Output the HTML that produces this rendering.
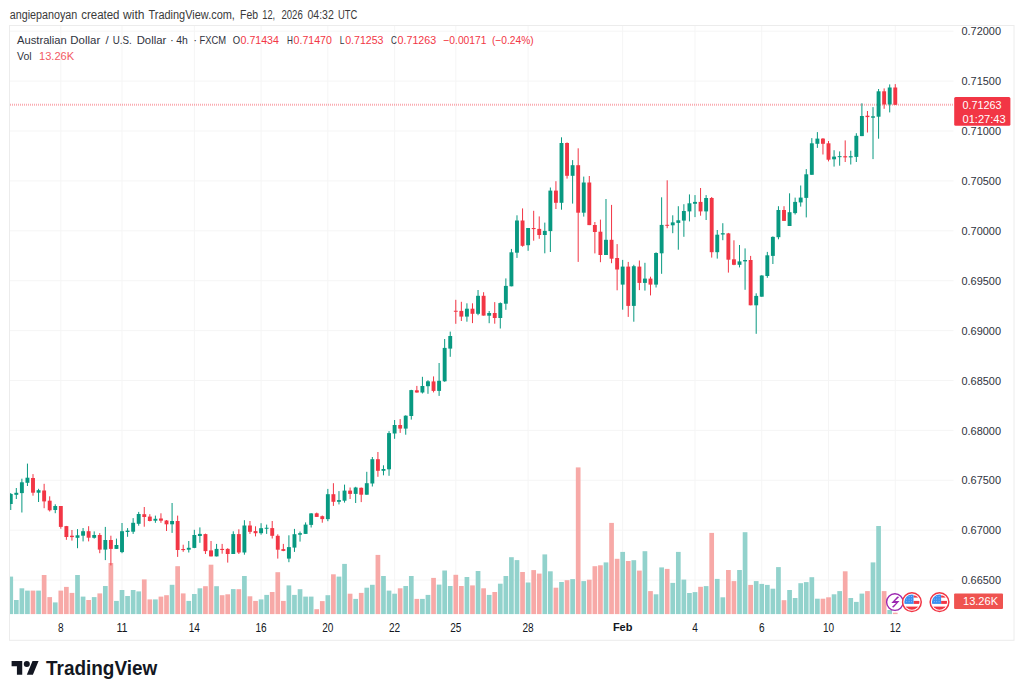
<!DOCTYPE html>
<html><head><meta charset="utf-8"><style>
html,body{margin:0;padding:0;background:#fff;width:1024px;height:696px;overflow:hidden}
svg{display:block;font-family:"Liberation Sans",sans-serif}
</style></head><body>
<svg width="1024" height="696" viewBox="0 0 1024 696">
<rect width="1024" height="696" fill="#ffffff"/>
<text x="9.7" y="18.8" font-size="12" fill="#3a3a3a" textLength="67.6" lengthAdjust="spacingAndGlyphs">angiepanoyan</text>
<text x="81.2" y="18.8" font-size="12" fill="#3a3a3a" textLength="38.3" lengthAdjust="spacingAndGlyphs">created</text>
<text x="123" y="18.8" font-size="12" fill="#3a3a3a" textLength="21.5" lengthAdjust="spacingAndGlyphs">with</text>
<text x="148.5" y="18.8" font-size="12" fill="#3a3a3a" textLength="86.4" lengthAdjust="spacingAndGlyphs">TradingView.com,</text>
<text x="240" y="18.8" font-size="12" fill="#3a3a3a" textLength="18.0" lengthAdjust="spacingAndGlyphs">Feb</text>
<text x="262.3" y="18.8" font-size="12" fill="#3a3a3a" textLength="12.9" lengthAdjust="spacingAndGlyphs">12,</text>
<text x="281.4" y="18.8" font-size="12" fill="#3a3a3a" textLength="21.4" lengthAdjust="spacingAndGlyphs">2026</text>
<text x="307.4" y="18.8" font-size="12" fill="#3a3a3a" textLength="26.4" lengthAdjust="spacingAndGlyphs">04:32</text>
<text x="337.9" y="18.8" font-size="12" fill="#3a3a3a" textLength="19.4" lengthAdjust="spacingAndGlyphs">UTC</text>
<rect x="9.5" y="25.5" width="1004.5" height="614.8" fill="none" stroke="#ececec" stroke-width="1"/>
<defs><clipPath id="cp"><rect x="10" y="26" width="943.5" height="613"/></clipPath></defs>
<line x1="10" x2="953.5" y1="31.20" y2="31.20" stroke="#f5f5f5" stroke-width="1"/>
<line x1="10" x2="953.5" y1="81.10" y2="81.10" stroke="#f5f5f5" stroke-width="1"/>
<line x1="10" x2="953.5" y1="131.00" y2="131.00" stroke="#f5f5f5" stroke-width="1"/>
<line x1="10" x2="953.5" y1="180.90" y2="180.90" stroke="#f5f5f5" stroke-width="1"/>
<line x1="10" x2="953.5" y1="230.80" y2="230.80" stroke="#f5f5f5" stroke-width="1"/>
<line x1="10" x2="953.5" y1="280.70" y2="280.70" stroke="#f5f5f5" stroke-width="1"/>
<line x1="10" x2="953.5" y1="330.60" y2="330.60" stroke="#f5f5f5" stroke-width="1"/>
<line x1="10" x2="953.5" y1="380.50" y2="380.50" stroke="#f5f5f5" stroke-width="1"/>
<line x1="10" x2="953.5" y1="430.40" y2="430.40" stroke="#f5f5f5" stroke-width="1"/>
<line x1="10" x2="953.5" y1="480.30" y2="480.30" stroke="#f5f5f5" stroke-width="1"/>
<line x1="10" x2="953.5" y1="530.20" y2="530.20" stroke="#f5f5f5" stroke-width="1"/>
<line x1="10" x2="953.5" y1="580.10" y2="580.10" stroke="#f5f5f5" stroke-width="1"/>
<line x1="60.82" x2="60.82" y1="26" y2="614" stroke="#f5f5f5" stroke-width="1"/>
<line x1="122.01" x2="122.01" y1="26" y2="614" stroke="#f5f5f5" stroke-width="1"/>
<line x1="194.33" x2="194.33" y1="26" y2="614" stroke="#f5f5f5" stroke-width="1"/>
<line x1="261.08" x2="261.08" y1="26" y2="614" stroke="#f5f5f5" stroke-width="1"/>
<line x1="327.84" x2="327.84" y1="26" y2="614" stroke="#f5f5f5" stroke-width="1"/>
<line x1="394.60" x2="394.60" y1="26" y2="614" stroke="#f5f5f5" stroke-width="1"/>
<line x1="455.79" x2="455.79" y1="26" y2="614" stroke="#f5f5f5" stroke-width="1"/>
<line x1="528.11" x2="528.11" y1="26" y2="614" stroke="#f5f5f5" stroke-width="1"/>
<line x1="622.68" x2="622.68" y1="26" y2="614" stroke="#f5f5f5" stroke-width="1"/>
<line x1="695.00" x2="695.00" y1="26" y2="614" stroke="#f5f5f5" stroke-width="1"/>
<line x1="761.75" x2="761.75" y1="26" y2="614" stroke="#f5f5f5" stroke-width="1"/>
<line x1="828.51" x2="828.51" y1="26" y2="614" stroke="#f5f5f5" stroke-width="1"/>
<line x1="895.27" x2="895.27" y1="26" y2="614" stroke="#f5f5f5" stroke-width="1"/>
<line x1="10" x2="954" y1="104.75" y2="104.75" stroke="#f23645" stroke-opacity="0.42" stroke-width="1.8" stroke-dasharray="1 1"/>
<g clip-path="url(#cp)">
<rect x="8.40" y="576.60" width="4.7" height="37.50" fill="#92d2cc"/>
<rect x="13.96" y="600.00" width="4.7" height="14.10" fill="#92d2cc"/>
<rect x="19.53" y="588.30" width="4.7" height="25.80" fill="#92d2cc"/>
<rect x="25.09" y="590.60" width="4.7" height="23.50" fill="#92d2cc"/>
<rect x="30.65" y="590.60" width="4.7" height="23.50" fill="#f7a9a7"/>
<rect x="36.21" y="590.60" width="4.7" height="23.50" fill="#92d2cc"/>
<rect x="41.78" y="575.00" width="4.7" height="39.10" fill="#f7a9a7"/>
<rect x="47.34" y="597.10" width="4.7" height="17.00" fill="#f7a9a7"/>
<rect x="52.90" y="602.40" width="4.7" height="11.70" fill="#92d2cc"/>
<rect x="58.47" y="590.60" width="4.7" height="23.50" fill="#f7a9a7"/>
<rect x="64.03" y="586.90" width="4.7" height="27.20" fill="#f7a9a7"/>
<rect x="69.59" y="592.90" width="4.7" height="21.20" fill="#f7a9a7"/>
<rect x="75.16" y="575.00" width="4.7" height="39.10" fill="#92d2cc"/>
<rect x="80.72" y="596.60" width="4.7" height="17.50" fill="#92d2cc"/>
<rect x="86.28" y="600.00" width="4.7" height="14.10" fill="#f7a9a7"/>
<rect x="91.84" y="597.10" width="4.7" height="17.00" fill="#92d2cc"/>
<rect x="97.41" y="593.40" width="4.7" height="20.70" fill="#f7a9a7"/>
<rect x="102.97" y="586.00" width="4.7" height="28.10" fill="#92d2cc"/>
<rect x="108.53" y="563.00" width="4.7" height="51.10" fill="#f7a9a7"/>
<rect x="114.10" y="600.90" width="4.7" height="13.20" fill="#92d2cc"/>
<rect x="119.66" y="590.00" width="4.7" height="24.10" fill="#92d2cc"/>
<rect x="125.22" y="596.00" width="4.7" height="18.10" fill="#92d2cc"/>
<rect x="130.79" y="590.00" width="4.7" height="24.10" fill="#92d2cc"/>
<rect x="136.35" y="591.40" width="4.7" height="22.70" fill="#92d2cc"/>
<rect x="141.91" y="579.40" width="4.7" height="34.70" fill="#f7a9a7"/>
<rect x="147.47" y="599.40" width="4.7" height="14.70" fill="#f7a9a7"/>
<rect x="153.04" y="599.40" width="4.7" height="14.70" fill="#92d2cc"/>
<rect x="158.60" y="596.60" width="4.7" height="17.50" fill="#f7a9a7"/>
<rect x="164.16" y="595.20" width="4.7" height="18.90" fill="#f7a9a7"/>
<rect x="169.73" y="584.80" width="4.7" height="29.30" fill="#92d2cc"/>
<rect x="175.29" y="566.20" width="4.7" height="47.90" fill="#f7a9a7"/>
<rect x="180.85" y="593.40" width="4.7" height="20.70" fill="#f7a9a7"/>
<rect x="186.42" y="600.90" width="4.7" height="13.20" fill="#92d2cc"/>
<rect x="191.98" y="594.00" width="4.7" height="20.10" fill="#92d2cc"/>
<rect x="197.54" y="588.30" width="4.7" height="25.80" fill="#92d2cc"/>
<rect x="203.10" y="586.20" width="4.7" height="27.90" fill="#f7a9a7"/>
<rect x="208.67" y="564.70" width="4.7" height="49.40" fill="#f7a9a7"/>
<rect x="214.23" y="586.20" width="4.7" height="27.90" fill="#92d2cc"/>
<rect x="219.79" y="595.20" width="4.7" height="18.90" fill="#f7a9a7"/>
<rect x="225.36" y="594.30" width="4.7" height="19.80" fill="#f7a9a7"/>
<rect x="230.92" y="589.10" width="4.7" height="25.00" fill="#92d2cc"/>
<rect x="236.48" y="589.20" width="4.7" height="24.90" fill="#f7a9a7"/>
<rect x="242.05" y="576.00" width="4.7" height="38.10" fill="#92d2cc"/>
<rect x="247.61" y="596.30" width="4.7" height="17.80" fill="#f7a9a7"/>
<rect x="253.17" y="600.90" width="4.7" height="13.20" fill="#f7a9a7"/>
<rect x="258.73" y="599.40" width="4.7" height="14.70" fill="#92d2cc"/>
<rect x="264.30" y="594.90" width="4.7" height="19.20" fill="#92d2cc"/>
<rect x="269.86" y="592.00" width="4.7" height="22.10" fill="#f7a9a7"/>
<rect x="275.42" y="572.20" width="4.7" height="41.90" fill="#f7a9a7"/>
<rect x="280.99" y="600.90" width="4.7" height="13.20" fill="#f7a9a7"/>
<rect x="286.55" y="585.40" width="4.7" height="28.70" fill="#92d2cc"/>
<rect x="292.11" y="594.90" width="4.7" height="19.20" fill="#92d2cc"/>
<rect x="297.68" y="589.20" width="4.7" height="24.90" fill="#92d2cc"/>
<rect x="303.24" y="596.60" width="4.7" height="17.50" fill="#92d2cc"/>
<rect x="308.80" y="596.60" width="4.7" height="17.50" fill="#92d2cc"/>
<rect x="314.36" y="609.20" width="4.7" height="4.90" fill="#f7a9a7"/>
<rect x="319.93" y="601.10" width="4.7" height="13.00" fill="#f7a9a7"/>
<rect x="325.49" y="595.20" width="4.7" height="18.90" fill="#92d2cc"/>
<rect x="331.05" y="574.30" width="4.7" height="39.80" fill="#f7a9a7"/>
<rect x="336.62" y="576.60" width="4.7" height="37.50" fill="#92d2cc"/>
<rect x="342.18" y="563.90" width="4.7" height="50.20" fill="#92d2cc"/>
<rect x="347.74" y="593.70" width="4.7" height="20.40" fill="#f7a9a7"/>
<rect x="353.31" y="598.90" width="4.7" height="15.20" fill="#92d2cc"/>
<rect x="358.87" y="592.90" width="4.7" height="21.20" fill="#f7a9a7"/>
<rect x="364.43" y="587.70" width="4.7" height="26.40" fill="#92d2cc"/>
<rect x="369.99" y="584.80" width="4.7" height="29.30" fill="#92d2cc"/>
<rect x="375.56" y="554.90" width="4.7" height="59.20" fill="#f7a9a7"/>
<rect x="381.12" y="576.00" width="4.7" height="38.10" fill="#92d2cc"/>
<rect x="386.68" y="590.60" width="4.7" height="23.50" fill="#92d2cc"/>
<rect x="392.25" y="593.70" width="4.7" height="20.40" fill="#92d2cc"/>
<rect x="397.81" y="588.30" width="4.7" height="25.80" fill="#f7a9a7"/>
<rect x="403.37" y="586.00" width="4.7" height="28.10" fill="#92d2cc"/>
<rect x="408.94" y="576.00" width="4.7" height="38.10" fill="#92d2cc"/>
<rect x="414.50" y="598.90" width="4.7" height="15.20" fill="#f7a9a7"/>
<rect x="420.06" y="598.90" width="4.7" height="15.20" fill="#92d2cc"/>
<rect x="425.62" y="594.90" width="4.7" height="19.20" fill="#92d2cc"/>
<rect x="431.19" y="577.90" width="4.7" height="36.20" fill="#f7a9a7"/>
<rect x="436.75" y="584.60" width="4.7" height="29.50" fill="#92d2cc"/>
<rect x="442.31" y="570.50" width="4.7" height="43.60" fill="#92d2cc"/>
<rect x="447.88" y="586.00" width="4.7" height="28.10" fill="#92d2cc"/>
<rect x="453.44" y="574.80" width="4.7" height="39.30" fill="#f7a9a7"/>
<rect x="459.00" y="586.00" width="4.7" height="28.10" fill="#f7a9a7"/>
<rect x="464.57" y="577.00" width="4.7" height="37.10" fill="#92d2cc"/>
<rect x="470.13" y="585.40" width="4.7" height="28.70" fill="#f7a9a7"/>
<rect x="475.69" y="571.00" width="4.7" height="43.10" fill="#92d2cc"/>
<rect x="481.25" y="588.30" width="4.7" height="25.80" fill="#f7a9a7"/>
<rect x="486.82" y="594.90" width="4.7" height="19.20" fill="#92d2cc"/>
<rect x="492.38" y="592.00" width="4.7" height="22.10" fill="#f7a9a7"/>
<rect x="497.94" y="583.70" width="4.7" height="30.40" fill="#92d2cc"/>
<rect x="503.51" y="576.00" width="4.7" height="38.10" fill="#92d2cc"/>
<rect x="509.07" y="557.20" width="4.7" height="56.90" fill="#92d2cc"/>
<rect x="514.63" y="560.10" width="4.7" height="54.00" fill="#92d2cc"/>
<rect x="520.20" y="572.00" width="4.7" height="42.10" fill="#f7a9a7"/>
<rect x="525.76" y="582.50" width="4.7" height="31.60" fill="#92d2cc"/>
<rect x="531.32" y="570.10" width="4.7" height="44.00" fill="#f7a9a7"/>
<rect x="536.88" y="573.60" width="4.7" height="40.50" fill="#f7a9a7"/>
<rect x="542.45" y="554.40" width="4.7" height="59.70" fill="#92d2cc"/>
<rect x="548.01" y="571.30" width="4.7" height="42.80" fill="#92d2cc"/>
<rect x="553.57" y="587.70" width="4.7" height="26.40" fill="#f7a9a7"/>
<rect x="559.14" y="582.00" width="4.7" height="32.10" fill="#92d2cc"/>
<rect x="564.70" y="580.20" width="4.7" height="33.90" fill="#f7a9a7"/>
<rect x="570.26" y="579.10" width="4.7" height="35.00" fill="#92d2cc"/>
<rect x="575.83" y="467.40" width="4.7" height="146.70" fill="#f7a9a7"/>
<rect x="581.39" y="581.10" width="4.7" height="33.00" fill="#92d2cc"/>
<rect x="586.95" y="579.70" width="4.7" height="34.40" fill="#f7a9a7"/>
<rect x="592.51" y="566.20" width="4.7" height="47.90" fill="#f7a9a7"/>
<rect x="598.08" y="565.30" width="4.7" height="48.80" fill="#f7a9a7"/>
<rect x="603.64" y="562.40" width="4.7" height="51.70" fill="#92d2cc"/>
<rect x="609.20" y="522.90" width="4.7" height="91.20" fill="#f7a9a7"/>
<rect x="614.77" y="558.80" width="4.7" height="55.30" fill="#f7a9a7"/>
<rect x="620.33" y="551.90" width="4.7" height="62.20" fill="#92d2cc"/>
<rect x="625.89" y="561.00" width="4.7" height="53.10" fill="#f7a9a7"/>
<rect x="631.46" y="560.20" width="4.7" height="53.90" fill="#92d2cc"/>
<rect x="637.02" y="570.60" width="4.7" height="43.50" fill="#f7a9a7"/>
<rect x="642.58" y="551.20" width="4.7" height="62.90" fill="#92d2cc"/>
<rect x="648.14" y="591.10" width="4.7" height="23.00" fill="#f7a9a7"/>
<rect x="653.71" y="594.30" width="4.7" height="19.80" fill="#92d2cc"/>
<rect x="659.27" y="567.40" width="4.7" height="46.70" fill="#92d2cc"/>
<rect x="664.83" y="568.90" width="4.7" height="45.20" fill="#f7a9a7"/>
<rect x="670.40" y="582.90" width="4.7" height="31.20" fill="#92d2cc"/>
<rect x="675.96" y="551.90" width="4.7" height="62.20" fill="#92d2cc"/>
<rect x="681.52" y="579.60" width="4.7" height="34.50" fill="#92d2cc"/>
<rect x="687.09" y="593.00" width="4.7" height="21.10" fill="#92d2cc"/>
<rect x="692.65" y="592.10" width="4.7" height="22.00" fill="#92d2cc"/>
<rect x="698.21" y="586.80" width="4.7" height="27.30" fill="#f7a9a7"/>
<rect x="703.77" y="586.10" width="4.7" height="28.00" fill="#92d2cc"/>
<rect x="709.34" y="532.90" width="4.7" height="81.20" fill="#f7a9a7"/>
<rect x="714.90" y="578.90" width="4.7" height="35.20" fill="#92d2cc"/>
<rect x="720.46" y="597.30" width="4.7" height="16.80" fill="#92d2cc"/>
<rect x="726.03" y="570.00" width="4.7" height="44.10" fill="#f7a9a7"/>
<rect x="731.59" y="581.10" width="4.7" height="33.00" fill="#f7a9a7"/>
<rect x="737.15" y="570.00" width="4.7" height="44.10" fill="#92d2cc"/>
<rect x="742.72" y="532.20" width="4.7" height="81.90" fill="#92d2cc"/>
<rect x="748.28" y="584.90" width="4.7" height="29.20" fill="#f7a9a7"/>
<rect x="753.84" y="581.10" width="4.7" height="33.00" fill="#92d2cc"/>
<rect x="759.40" y="583.90" width="4.7" height="30.20" fill="#92d2cc"/>
<rect x="764.97" y="584.90" width="4.7" height="29.20" fill="#92d2cc"/>
<rect x="770.53" y="588.70" width="4.7" height="25.40" fill="#92d2cc"/>
<rect x="776.09" y="567.10" width="4.7" height="47.00" fill="#92d2cc"/>
<rect x="781.66" y="600.20" width="4.7" height="13.90" fill="#f7a9a7"/>
<rect x="787.22" y="590.00" width="4.7" height="24.10" fill="#92d2cc"/>
<rect x="792.78" y="598.00" width="4.7" height="16.10" fill="#92d2cc"/>
<rect x="798.35" y="583.20" width="4.7" height="30.90" fill="#92d2cc"/>
<rect x="803.91" y="582.10" width="4.7" height="32.00" fill="#92d2cc"/>
<rect x="809.47" y="577.20" width="4.7" height="36.90" fill="#92d2cc"/>
<rect x="815.03" y="598.70" width="4.7" height="15.40" fill="#92d2cc"/>
<rect x="820.60" y="598.70" width="4.7" height="15.40" fill="#f7a9a7"/>
<rect x="826.16" y="597.30" width="4.7" height="16.80" fill="#f7a9a7"/>
<rect x="831.72" y="594.30" width="4.7" height="19.80" fill="#92d2cc"/>
<rect x="837.29" y="591.10" width="4.7" height="23.00" fill="#92d2cc"/>
<rect x="842.85" y="571.30" width="4.7" height="42.80" fill="#f7a9a7"/>
<rect x="848.41" y="598.00" width="4.7" height="16.10" fill="#92d2cc"/>
<rect x="853.98" y="601.90" width="4.7" height="12.20" fill="#92d2cc"/>
<rect x="859.54" y="593.60" width="4.7" height="20.50" fill="#92d2cc"/>
<rect x="865.10" y="591.10" width="4.7" height="23.00" fill="#f7a9a7"/>
<rect x="870.66" y="562.40" width="4.7" height="51.70" fill="#92d2cc"/>
<rect x="876.23" y="526.00" width="4.7" height="88.10" fill="#92d2cc"/>
<rect x="881.79" y="591.10" width="4.7" height="23.00" fill="#f7a9a7"/>
<rect x="887.35" y="610.00" width="4.7" height="4.10" fill="#92d2cc"/>
<rect x="892.92" y="612.70" width="4.7" height="1.40" fill="#f7a9a7"/>
<rect x="10.25" y="493.00" width="1" height="17.00" fill="#089981"/>
<rect x="8.80" y="494.00" width="3.9" height="10.00" fill="#089981"/>
<rect x="15.81" y="488.00" width="1" height="11.00" fill="#089981"/>
<rect x="14.36" y="492.80" width="3.9" height="2.00" fill="#089981"/>
<rect x="21.38" y="478.70" width="1" height="33.80" fill="#089981"/>
<rect x="19.93" y="482.30" width="3.9" height="10.80" fill="#089981"/>
<rect x="26.94" y="463.60" width="1" height="22.40" fill="#089981"/>
<rect x="25.49" y="477.70" width="3.9" height="5.10" fill="#089981"/>
<rect x="32.50" y="474.10" width="1" height="21.60" fill="#f23645"/>
<rect x="31.05" y="478.00" width="3.9" height="14.70" fill="#f23645"/>
<rect x="38.06" y="488.80" width="1" height="13.20" fill="#089981"/>
<rect x="36.61" y="490.20" width="3.9" height="2.50" fill="#089981"/>
<rect x="43.63" y="483.80" width="1" height="24.40" fill="#f23645"/>
<rect x="42.18" y="490.50" width="3.9" height="10.90" fill="#f23645"/>
<rect x="49.19" y="496.30" width="1" height="15.20" fill="#f23645"/>
<rect x="47.74" y="500.70" width="3.9" height="9.60" fill="#f23645"/>
<rect x="54.75" y="504.30" width="1" height="8.90" fill="#089981"/>
<rect x="53.30" y="506.00" width="3.9" height="4.00" fill="#089981"/>
<rect x="60.32" y="506.00" width="1" height="22.70" fill="#f23645"/>
<rect x="58.87" y="506.00" width="3.9" height="20.90" fill="#f23645"/>
<rect x="65.88" y="525.90" width="1" height="13.90" fill="#f23645"/>
<rect x="64.43" y="526.10" width="3.9" height="10.90" fill="#f23645"/>
<rect x="71.44" y="530.00" width="1" height="10.60" fill="#f23645"/>
<rect x="69.99" y="535.70" width="3.9" height="1.40" fill="#f23645"/>
<rect x="77.01" y="529.10" width="1" height="19.10" fill="#089981"/>
<rect x="75.56" y="535.30" width="3.9" height="2.50" fill="#089981"/>
<rect x="82.57" y="528.00" width="1" height="13.40" fill="#089981"/>
<rect x="81.12" y="531.20" width="3.9" height="4.50" fill="#089981"/>
<rect x="88.13" y="526.20" width="1" height="15.20" fill="#f23645"/>
<rect x="86.68" y="531.20" width="3.9" height="6.50" fill="#f23645"/>
<rect x="93.69" y="531.40" width="1" height="7.20" fill="#089981"/>
<rect x="92.24" y="535.00" width="3.9" height="2.80" fill="#089981"/>
<rect x="99.26" y="533.10" width="1" height="20.10" fill="#f23645"/>
<rect x="97.81" y="535.00" width="3.9" height="14.60" fill="#f23645"/>
<rect x="104.82" y="526.90" width="1" height="33.20" fill="#089981"/>
<rect x="103.37" y="540.00" width="3.9" height="9.60" fill="#089981"/>
<rect x="110.38" y="535.70" width="1" height="29.70" fill="#f23645"/>
<rect x="108.93" y="540.00" width="3.9" height="8.90" fill="#f23645"/>
<rect x="115.95" y="538.60" width="1" height="10.30" fill="#089981"/>
<rect x="114.50" y="545.00" width="3.9" height="3.90" fill="#089981"/>
<rect x="121.51" y="523.00" width="1" height="30.20" fill="#089981"/>
<rect x="120.06" y="531.20" width="3.9" height="20.90" fill="#089981"/>
<rect x="127.07" y="528.10" width="1" height="8.70" fill="#089981"/>
<rect x="125.62" y="530.60" width="3.9" height="1.40" fill="#089981"/>
<rect x="132.64" y="518.10" width="1" height="15.80" fill="#089981"/>
<rect x="131.19" y="522.80" width="3.9" height="8.90" fill="#089981"/>
<rect x="138.20" y="511.90" width="1" height="13.80" fill="#089981"/>
<rect x="136.75" y="514.00" width="3.9" height="9.80" fill="#089981"/>
<rect x="143.76" y="507.00" width="1" height="19.70" fill="#f23645"/>
<rect x="142.31" y="514.20" width="3.9" height="2.80" fill="#f23645"/>
<rect x="149.32" y="514.20" width="1" height="7.20" fill="#f23645"/>
<rect x="147.88" y="516.60" width="3.9" height="4.40" fill="#f23645"/>
<rect x="154.89" y="515.60" width="1" height="7.20" fill="#089981"/>
<rect x="153.44" y="518.80" width="3.9" height="1.90" fill="#089981"/>
<rect x="160.45" y="513.30" width="1" height="9.50" fill="#f23645"/>
<rect x="159.00" y="518.50" width="3.9" height="2.20" fill="#f23645"/>
<rect x="166.01" y="520.00" width="1" height="11.00" fill="#f23645"/>
<rect x="164.56" y="520.50" width="3.9" height="3.80" fill="#f23645"/>
<rect x="171.58" y="503.00" width="1" height="29.90" fill="#089981"/>
<rect x="170.13" y="521.00" width="3.9" height="3.30" fill="#089981"/>
<rect x="177.14" y="515.60" width="1" height="41.30" fill="#f23645"/>
<rect x="175.69" y="521.00" width="3.9" height="29.00" fill="#f23645"/>
<rect x="182.70" y="544.70" width="1" height="7.10" fill="#f23645"/>
<rect x="181.25" y="549.00" width="3.9" height="1.10" fill="#f23645"/>
<rect x="188.27" y="541.00" width="1" height="11.50" fill="#089981"/>
<rect x="186.82" y="547.80" width="3.9" height="1.90" fill="#089981"/>
<rect x="193.83" y="529.80" width="1" height="18.40" fill="#089981"/>
<rect x="192.38" y="535.00" width="3.9" height="12.90" fill="#089981"/>
<rect x="199.39" y="527.40" width="1" height="15.40" fill="#089981"/>
<rect x="197.94" y="533.90" width="3.9" height="2.10" fill="#089981"/>
<rect x="204.95" y="533.60" width="1" height="20.40" fill="#f23645"/>
<rect x="203.50" y="534.10" width="3.9" height="17.00" fill="#f23645"/>
<rect x="210.52" y="541.00" width="1" height="15.40" fill="#f23645"/>
<rect x="209.07" y="550.40" width="3.9" height="6.00" fill="#f23645"/>
<rect x="216.08" y="543.90" width="1" height="12.50" fill="#089981"/>
<rect x="214.63" y="548.90" width="3.9" height="7.50" fill="#089981"/>
<rect x="221.64" y="543.90" width="1" height="9.80" fill="#f23645"/>
<rect x="220.19" y="548.90" width="3.9" height="1.10" fill="#f23645"/>
<rect x="227.21" y="548.20" width="1" height="14.40" fill="#f23645"/>
<rect x="225.76" y="548.90" width="3.9" height="5.10" fill="#f23645"/>
<rect x="232.77" y="531.30" width="1" height="22.70" fill="#089981"/>
<rect x="231.32" y="534.10" width="3.9" height="19.90" fill="#089981"/>
<rect x="238.33" y="529.30" width="1" height="24.70" fill="#f23645"/>
<rect x="236.88" y="534.10" width="3.9" height="18.40" fill="#f23645"/>
<rect x="243.90" y="520.20" width="1" height="34.50" fill="#089981"/>
<rect x="242.45" y="525.50" width="3.9" height="27.00" fill="#089981"/>
<rect x="249.46" y="521.00" width="1" height="12.90" fill="#f23645"/>
<rect x="248.01" y="525.50" width="3.9" height="6.30" fill="#f23645"/>
<rect x="255.02" y="526.30" width="1" height="10.10" fill="#f23645"/>
<rect x="253.57" y="531.10" width="3.9" height="2.10" fill="#f23645"/>
<rect x="260.58" y="523.20" width="1" height="11.50" fill="#089981"/>
<rect x="259.13" y="528.20" width="3.9" height="5.00" fill="#089981"/>
<rect x="266.15" y="524.60" width="1" height="9.30" fill="#089981"/>
<rect x="264.70" y="527.75" width="3.9" height="1.00" fill="#089981"/>
<rect x="271.71" y="521.00" width="1" height="17.50" fill="#f23645"/>
<rect x="270.26" y="528.10" width="3.9" height="7.70" fill="#f23645"/>
<rect x="277.27" y="534.30" width="1" height="24.30" fill="#f23645"/>
<rect x="275.82" y="535.80" width="3.9" height="13.90" fill="#f23645"/>
<rect x="282.84" y="543.90" width="1" height="7.30" fill="#f23645"/>
<rect x="281.39" y="549.10" width="3.9" height="1.80" fill="#f23645"/>
<rect x="288.40" y="535.30" width="1" height="26.90" fill="#089981"/>
<rect x="286.95" y="547.10" width="3.9" height="11.50" fill="#089981"/>
<rect x="293.96" y="528.90" width="1" height="23.00" fill="#089981"/>
<rect x="292.51" y="534.20" width="3.9" height="13.40" fill="#089981"/>
<rect x="299.53" y="531.50" width="1" height="10.10" fill="#089981"/>
<rect x="298.08" y="533.20" width="3.9" height="1.50" fill="#089981"/>
<rect x="305.09" y="522.40" width="1" height="11.50" fill="#089981"/>
<rect x="303.64" y="524.60" width="3.9" height="9.30" fill="#089981"/>
<rect x="310.65" y="513.10" width="1" height="14.40" fill="#089981"/>
<rect x="309.20" y="513.40" width="3.9" height="11.50" fill="#089981"/>
<rect x="316.21" y="512.60" width="1" height="4.30" fill="#f23645"/>
<rect x="314.76" y="513.30" width="3.9" height="3.60" fill="#f23645"/>
<rect x="321.78" y="515.50" width="1" height="7.20" fill="#f23645"/>
<rect x="320.33" y="516.20" width="3.9" height="2.90" fill="#f23645"/>
<rect x="327.34" y="488.90" width="1" height="32.30" fill="#089981"/>
<rect x="325.89" y="494.20" width="3.9" height="24.90" fill="#089981"/>
<rect x="332.90" y="483.20" width="1" height="22.70" fill="#f23645"/>
<rect x="331.45" y="494.20" width="3.9" height="7.60" fill="#f23645"/>
<rect x="338.47" y="491.10" width="1" height="13.30" fill="#089981"/>
<rect x="337.02" y="500.10" width="3.9" height="1.70" fill="#089981"/>
<rect x="344.03" y="484.60" width="1" height="18.00" fill="#089981"/>
<rect x="342.58" y="490.60" width="3.9" height="10.10" fill="#089981"/>
<rect x="349.59" y="487.50" width="1" height="11.50" fill="#f23645"/>
<rect x="348.14" y="490.60" width="3.9" height="3.30" fill="#f23645"/>
<rect x="355.16" y="486.80" width="1" height="16.20" fill="#089981"/>
<rect x="353.71" y="487.50" width="3.9" height="6.40" fill="#089981"/>
<rect x="360.72" y="487.50" width="1" height="14.60" fill="#f23645"/>
<rect x="359.27" y="487.80" width="3.9" height="6.90" fill="#f23645"/>
<rect x="366.28" y="471.80" width="1" height="22.90" fill="#089981"/>
<rect x="364.83" y="483.20" width="3.9" height="11.50" fill="#089981"/>
<rect x="371.84" y="457.00" width="1" height="29.50" fill="#089981"/>
<rect x="370.39" y="459.20" width="3.9" height="24.30" fill="#089981"/>
<rect x="377.41" y="452.00" width="1" height="24.80" fill="#f23645"/>
<rect x="375.96" y="459.20" width="3.9" height="11.60" fill="#f23645"/>
<rect x="382.97" y="465.30" width="1" height="10.00" fill="#089981"/>
<rect x="381.52" y="469.00" width="3.9" height="1.80" fill="#089981"/>
<rect x="388.53" y="431.10" width="1" height="44.70" fill="#089981"/>
<rect x="387.08" y="433.10" width="3.9" height="36.20" fill="#089981"/>
<rect x="394.10" y="420.00" width="1" height="18.80" fill="#089981"/>
<rect x="392.65" y="425.00" width="3.9" height="8.50" fill="#089981"/>
<rect x="399.66" y="419.10" width="1" height="13.80" fill="#f23645"/>
<rect x="398.21" y="425.00" width="3.9" height="3.60" fill="#f23645"/>
<rect x="405.22" y="415.30" width="1" height="19.40" fill="#089981"/>
<rect x="403.77" y="415.70" width="3.9" height="12.90" fill="#089981"/>
<rect x="410.79" y="389.80" width="1" height="29.80" fill="#089981"/>
<rect x="409.34" y="390.10" width="3.9" height="25.90" fill="#089981"/>
<rect x="416.35" y="385.90" width="1" height="6.80" fill="#f23645"/>
<rect x="414.90" y="390.30" width="3.9" height="2.20" fill="#f23645"/>
<rect x="421.91" y="376.80" width="1" height="16.70" fill="#089981"/>
<rect x="420.46" y="386.00" width="3.9" height="6.50" fill="#089981"/>
<rect x="427.47" y="380.20" width="1" height="13.60" fill="#089981"/>
<rect x="426.02" y="381.30" width="3.9" height="4.90" fill="#089981"/>
<rect x="433.04" y="376.40" width="1" height="16.00" fill="#f23645"/>
<rect x="431.59" y="381.40" width="3.9" height="9.50" fill="#f23645"/>
<rect x="438.60" y="363.00" width="1" height="32.90" fill="#089981"/>
<rect x="437.15" y="380.80" width="3.9" height="10.10" fill="#089981"/>
<rect x="444.16" y="339.00" width="1" height="42.80" fill="#089981"/>
<rect x="442.71" y="347.90" width="3.9" height="33.40" fill="#089981"/>
<rect x="449.73" y="331.60" width="1" height="25.20" fill="#089981"/>
<rect x="448.28" y="336.00" width="3.9" height="12.60" fill="#089981"/>
<rect x="455.29" y="299.80" width="1" height="24.00" fill="#f23645"/>
<rect x="453.84" y="310.75" width="3.9" height="1.00" fill="#f23645"/>
<rect x="460.85" y="301.80" width="1" height="19.20" fill="#f23645"/>
<rect x="459.40" y="310.90" width="3.9" height="5.70" fill="#f23645"/>
<rect x="466.42" y="303.30" width="1" height="18.40" fill="#089981"/>
<rect x="464.97" y="308.70" width="3.9" height="7.90" fill="#089981"/>
<rect x="471.98" y="303.30" width="1" height="19.80" fill="#f23645"/>
<rect x="470.53" y="308.70" width="3.9" height="5.10" fill="#f23645"/>
<rect x="477.54" y="290.00" width="1" height="25.20" fill="#089981"/>
<rect x="476.09" y="295.80" width="3.9" height="18.00" fill="#089981"/>
<rect x="483.10" y="292.20" width="1" height="23.40" fill="#f23645"/>
<rect x="481.65" y="295.80" width="3.9" height="19.80" fill="#f23645"/>
<rect x="488.67" y="311.00" width="1" height="12.20" fill="#089981"/>
<rect x="487.22" y="313.00" width="3.9" height="2.70" fill="#089981"/>
<rect x="494.23" y="302.10" width="1" height="21.60" fill="#f23645"/>
<rect x="492.78" y="313.00" width="3.9" height="5.00" fill="#f23645"/>
<rect x="499.79" y="302.40" width="1" height="26.10" fill="#089981"/>
<rect x="498.34" y="303.10" width="3.9" height="14.90" fill="#089981"/>
<rect x="505.36" y="278.40" width="1" height="31.40" fill="#089981"/>
<rect x="503.91" y="285.90" width="3.9" height="17.80" fill="#089981"/>
<rect x="510.92" y="248.90" width="1" height="37.40" fill="#089981"/>
<rect x="509.47" y="252.30" width="3.9" height="34.00" fill="#089981"/>
<rect x="516.48" y="215.30" width="1" height="42.60" fill="#089981"/>
<rect x="515.03" y="220.50" width="3.9" height="32.20" fill="#089981"/>
<rect x="522.05" y="208.40" width="1" height="38.30" fill="#f23645"/>
<rect x="520.60" y="220.50" width="3.9" height="25.30" fill="#f23645"/>
<rect x="527.61" y="228.00" width="1" height="22.80" fill="#089981"/>
<rect x="526.16" y="228.00" width="3.9" height="17.20" fill="#089981"/>
<rect x="533.17" y="210.80" width="1" height="29.90" fill="#f23645"/>
<rect x="531.72" y="228.00" width="3.9" height="1.10" fill="#f23645"/>
<rect x="538.74" y="216.40" width="1" height="22.40" fill="#f23645"/>
<rect x="537.28" y="228.90" width="3.9" height="6.10" fill="#f23645"/>
<rect x="544.30" y="222.60" width="1" height="30.70" fill="#089981"/>
<rect x="542.85" y="230.90" width="3.9" height="4.10" fill="#089981"/>
<rect x="549.86" y="187.50" width="1" height="64.50" fill="#089981"/>
<rect x="548.41" y="190.60" width="3.9" height="40.50" fill="#089981"/>
<rect x="555.42" y="181.20" width="1" height="27.80" fill="#f23645"/>
<rect x="553.97" y="190.60" width="3.9" height="12.20" fill="#f23645"/>
<rect x="560.99" y="137.30" width="1" height="72.40" fill="#089981"/>
<rect x="559.54" y="143.00" width="3.9" height="59.80" fill="#089981"/>
<rect x="566.55" y="142.40" width="1" height="36.20" fill="#f23645"/>
<rect x="565.10" y="143.00" width="3.9" height="32.80" fill="#f23645"/>
<rect x="572.11" y="160.10" width="1" height="43.50" fill="#089981"/>
<rect x="570.66" y="165.20" width="3.9" height="10.60" fill="#089981"/>
<rect x="577.68" y="148.30" width="1" height="113.60" fill="#f23645"/>
<rect x="576.23" y="165.20" width="3.9" height="47.50" fill="#f23645"/>
<rect x="583.24" y="176.60" width="1" height="40.00" fill="#089981"/>
<rect x="581.79" y="182.50" width="3.9" height="30.20" fill="#089981"/>
<rect x="588.80" y="176.00" width="1" height="49.10" fill="#f23645"/>
<rect x="587.35" y="182.50" width="3.9" height="42.60" fill="#f23645"/>
<rect x="594.37" y="222.00" width="1" height="31.40" fill="#f23645"/>
<rect x="592.91" y="225.00" width="3.9" height="7.00" fill="#f23645"/>
<rect x="599.93" y="219.60" width="1" height="42.60" fill="#f23645"/>
<rect x="598.48" y="231.70" width="3.9" height="23.30" fill="#f23645"/>
<rect x="605.49" y="199.00" width="1" height="56.00" fill="#089981"/>
<rect x="604.04" y="239.80" width="3.9" height="15.20" fill="#089981"/>
<rect x="611.05" y="204.90" width="1" height="58.30" fill="#f23645"/>
<rect x="609.60" y="239.80" width="3.9" height="18.90" fill="#f23645"/>
<rect x="616.62" y="244.10" width="1" height="46.20" fill="#f23645"/>
<rect x="615.17" y="258.00" width="3.9" height="11.50" fill="#f23645"/>
<rect x="622.18" y="259.90" width="1" height="49.80" fill="#089981"/>
<rect x="620.73" y="266.60" width="3.9" height="18.00" fill="#089981"/>
<rect x="627.74" y="261.90" width="1" height="55.00" fill="#f23645"/>
<rect x="626.29" y="266.60" width="3.9" height="39.30" fill="#f23645"/>
<rect x="633.31" y="264.80" width="1" height="56.90" fill="#089981"/>
<rect x="631.86" y="266.20" width="3.9" height="39.70" fill="#089981"/>
<rect x="638.87" y="260.50" width="1" height="29.60" fill="#f23645"/>
<rect x="637.42" y="266.60" width="3.9" height="16.30" fill="#f23645"/>
<rect x="644.43" y="262.80" width="1" height="27.80" fill="#089981"/>
<rect x="642.98" y="278.60" width="3.9" height="4.30" fill="#089981"/>
<rect x="650.00" y="276.70" width="1" height="18.70" fill="#f23645"/>
<rect x="648.54" y="278.60" width="3.9" height="6.00" fill="#f23645"/>
<rect x="655.56" y="252.30" width="1" height="35.20" fill="#089981"/>
<rect x="654.11" y="253.00" width="3.9" height="31.60" fill="#089981"/>
<rect x="661.12" y="197.30" width="1" height="76.50" fill="#089981"/>
<rect x="659.67" y="224.90" width="3.9" height="28.40" fill="#089981"/>
<rect x="666.68" y="180.30" width="1" height="47.90" fill="#f23645"/>
<rect x="665.23" y="224.80" width="3.9" height="1.00" fill="#f23645"/>
<rect x="672.25" y="215.30" width="1" height="17.90" fill="#089981"/>
<rect x="670.80" y="222.40" width="3.9" height="2.90" fill="#089981"/>
<rect x="677.81" y="206.20" width="1" height="43.50" fill="#089981"/>
<rect x="676.36" y="220.30" width="3.9" height="2.60" fill="#089981"/>
<rect x="683.37" y="204.20" width="1" height="32.60" fill="#089981"/>
<rect x="681.92" y="211.00" width="3.9" height="9.60" fill="#089981"/>
<rect x="688.94" y="194.40" width="1" height="27.00" fill="#089981"/>
<rect x="687.49" y="203.30" width="3.9" height="8.10" fill="#089981"/>
<rect x="694.50" y="195.10" width="1" height="22.00" fill="#089981"/>
<rect x="693.05" y="201.90" width="3.9" height="1.90" fill="#089981"/>
<rect x="700.06" y="188.00" width="1" height="27.70" fill="#f23645"/>
<rect x="698.61" y="201.90" width="3.9" height="9.50" fill="#f23645"/>
<rect x="705.62" y="195.10" width="1" height="24.90" fill="#089981"/>
<rect x="704.17" y="198.00" width="3.9" height="13.40" fill="#089981"/>
<rect x="711.19" y="197.00" width="1" height="60.60" fill="#f23645"/>
<rect x="709.74" y="198.00" width="3.9" height="54.20" fill="#f23645"/>
<rect x="716.75" y="230.00" width="1" height="28.60" fill="#089981"/>
<rect x="715.30" y="234.70" width="3.9" height="17.50" fill="#089981"/>
<rect x="722.31" y="223.20" width="1" height="17.00" fill="#089981"/>
<rect x="720.86" y="233.20" width="3.9" height="1.30" fill="#089981"/>
<rect x="727.88" y="232.90" width="1" height="39.70" fill="#f23645"/>
<rect x="726.43" y="233.40" width="3.9" height="26.30" fill="#f23645"/>
<rect x="733.44" y="240.30" width="1" height="24.90" fill="#f23645"/>
<rect x="731.99" y="259.30" width="3.9" height="5.50" fill="#f23645"/>
<rect x="739.00" y="245.00" width="1" height="22.40" fill="#089981"/>
<rect x="737.55" y="261.40" width="3.9" height="3.40" fill="#089981"/>
<rect x="744.57" y="248.40" width="1" height="41.40" fill="#089981"/>
<rect x="743.12" y="260.00" width="3.9" height="1.40" fill="#089981"/>
<rect x="750.13" y="255.90" width="1" height="49.40" fill="#f23645"/>
<rect x="748.68" y="260.00" width="3.9" height="45.30" fill="#f23645"/>
<rect x="755.69" y="293.30" width="1" height="40.50" fill="#089981"/>
<rect x="754.24" y="295.90" width="3.9" height="9.40" fill="#089981"/>
<rect x="761.25" y="275.20" width="1" height="21.50" fill="#089981"/>
<rect x="759.80" y="275.50" width="3.9" height="21.20" fill="#089981"/>
<rect x="766.82" y="251.90" width="1" height="25.90" fill="#089981"/>
<rect x="765.37" y="255.30" width="3.9" height="20.70" fill="#089981"/>
<rect x="772.38" y="236.40" width="1" height="27.60" fill="#089981"/>
<rect x="770.93" y="236.90" width="3.9" height="19.00" fill="#089981"/>
<rect x="777.94" y="206.20" width="1" height="33.10" fill="#089981"/>
<rect x="776.49" y="210.00" width="3.9" height="27.20" fill="#089981"/>
<rect x="783.51" y="206.20" width="1" height="14.70" fill="#f23645"/>
<rect x="782.06" y="210.00" width="3.9" height="10.90" fill="#f23645"/>
<rect x="789.07" y="193.30" width="1" height="32.70" fill="#089981"/>
<rect x="787.62" y="212.20" width="3.9" height="13.80" fill="#089981"/>
<rect x="794.63" y="197.60" width="1" height="16.90" fill="#089981"/>
<rect x="793.18" y="201.90" width="3.9" height="11.20" fill="#089981"/>
<rect x="800.20" y="185.50" width="1" height="21.10" fill="#089981"/>
<rect x="798.75" y="197.60" width="3.9" height="4.80" fill="#089981"/>
<rect x="805.76" y="169.10" width="1" height="48.30" fill="#089981"/>
<rect x="804.31" y="174.30" width="3.9" height="23.60" fill="#089981"/>
<rect x="811.32" y="138.10" width="1" height="36.70" fill="#089981"/>
<rect x="809.87" y="143.30" width="3.9" height="31.50" fill="#089981"/>
<rect x="816.88" y="132.10" width="1" height="15.80" fill="#089981"/>
<rect x="815.43" y="138.60" width="3.9" height="5.20" fill="#089981"/>
<rect x="822.45" y="138.10" width="1" height="16.40" fill="#f23645"/>
<rect x="821.00" y="138.60" width="3.9" height="5.20" fill="#f23645"/>
<rect x="828.01" y="141.00" width="1" height="20.40" fill="#f23645"/>
<rect x="826.56" y="143.30" width="3.9" height="16.40" fill="#f23645"/>
<rect x="833.57" y="150.20" width="1" height="16.40" fill="#089981"/>
<rect x="832.12" y="156.60" width="3.9" height="2.70" fill="#089981"/>
<rect x="839.14" y="151.40" width="1" height="14.30" fill="#089981"/>
<rect x="837.69" y="156.15" width="3.9" height="1.00" fill="#089981"/>
<rect x="844.70" y="140.40" width="1" height="21.60" fill="#f23645"/>
<rect x="843.25" y="156.20" width="3.9" height="1.20" fill="#f23645"/>
<rect x="850.26" y="150.70" width="1" height="13.80" fill="#089981"/>
<rect x="848.81" y="156.20" width="3.9" height="1.20" fill="#089981"/>
<rect x="855.83" y="133.20" width="1" height="28.80" fill="#089981"/>
<rect x="854.38" y="135.80" width="3.9" height="21.10" fill="#089981"/>
<rect x="861.39" y="103.30" width="1" height="32.80" fill="#089981"/>
<rect x="859.94" y="116.00" width="3.9" height="20.10" fill="#089981"/>
<rect x="866.95" y="111.00" width="1" height="21.50" fill="#f23645"/>
<rect x="865.50" y="115.70" width="3.9" height="1.40" fill="#f23645"/>
<rect x="872.51" y="107.10" width="1" height="52.00" fill="#089981"/>
<rect x="871.06" y="116.30" width="3.9" height="1.40" fill="#089981"/>
<rect x="878.08" y="89.00" width="1" height="49.70" fill="#089981"/>
<rect x="876.63" y="91.30" width="3.9" height="25.40" fill="#089981"/>
<rect x="883.64" y="88.40" width="1" height="20.40" fill="#f23645"/>
<rect x="882.19" y="91.30" width="3.9" height="13.20" fill="#f23645"/>
<rect x="889.20" y="84.40" width="1" height="28.00" fill="#089981"/>
<rect x="887.75" y="87.50" width="3.9" height="17.00" fill="#089981"/>
<rect x="894.77" y="84.10" width="1" height="20.70" fill="#f23645"/>
<rect x="893.32" y="87.50" width="3.9" height="17.30" fill="#f23645"/>
</g>
<text x="961.5" y="35.30" font-size="11.5" fill="#2f3340" textLength="39.5" lengthAdjust="spacingAndGlyphs">0.72000</text>
<text x="961.5" y="85.20" font-size="11.5" fill="#2f3340" textLength="39.5" lengthAdjust="spacingAndGlyphs">0.71500</text>
<text x="961.5" y="135.10" font-size="11.5" fill="#2f3340" textLength="39.5" lengthAdjust="spacingAndGlyphs">0.71000</text>
<text x="961.5" y="185.00" font-size="11.5" fill="#2f3340" textLength="39.5" lengthAdjust="spacingAndGlyphs">0.70500</text>
<text x="961.5" y="234.90" font-size="11.5" fill="#2f3340" textLength="39.5" lengthAdjust="spacingAndGlyphs">0.70000</text>
<text x="961.5" y="284.80" font-size="11.5" fill="#2f3340" textLength="39.5" lengthAdjust="spacingAndGlyphs">0.69500</text>
<text x="961.5" y="334.70" font-size="11.5" fill="#2f3340" textLength="39.5" lengthAdjust="spacingAndGlyphs">0.69000</text>
<text x="961.5" y="384.60" font-size="11.5" fill="#2f3340" textLength="39.5" lengthAdjust="spacingAndGlyphs">0.68500</text>
<text x="961.5" y="434.50" font-size="11.5" fill="#2f3340" textLength="39.5" lengthAdjust="spacingAndGlyphs">0.68000</text>
<text x="961.5" y="484.40" font-size="11.5" fill="#2f3340" textLength="39.5" lengthAdjust="spacingAndGlyphs">0.67500</text>
<text x="961.5" y="534.30" font-size="11.5" fill="#2f3340" textLength="39.5" lengthAdjust="spacingAndGlyphs">0.67000</text>
<text x="961.5" y="584.20" font-size="11.5" fill="#2f3340" textLength="39.5" lengthAdjust="spacingAndGlyphs">0.66500</text>
<rect x="954.2" y="97.1" width="56.2" height="28.7" rx="1.5" fill="#f23645"/>
<text x="962.5" y="108.8" font-size="11" fill="#ffffff" textLength="39" lengthAdjust="spacingAndGlyphs">0.71263</text>
<text x="962.5" y="122.5" font-size="11" fill="#ffffff" textLength="43.2" lengthAdjust="spacingAndGlyphs">01:27:43</text>
<rect x="954.1" y="593.6" width="48.9" height="15.3" rx="1" fill="#ef5350"/>
<text x="963" y="605" font-size="11" fill="#ffffff" textLength="35" lengthAdjust="spacingAndGlyphs">13.26K</text>
<text x="58.02" y="631.7" font-size="12" fill="#131722" textLength="5.6" lengthAdjust="spacingAndGlyphs">8</text>
<text x="116.41" y="631.7" font-size="12" fill="#131722" textLength="11.2" lengthAdjust="spacingAndGlyphs">11</text>
<text x="188.73" y="631.7" font-size="12" fill="#131722" textLength="11.2" lengthAdjust="spacingAndGlyphs">14</text>
<text x="255.48" y="631.7" font-size="12" fill="#131722" textLength="11.2" lengthAdjust="spacingAndGlyphs">16</text>
<text x="322.24" y="631.7" font-size="12" fill="#131722" textLength="11.2" lengthAdjust="spacingAndGlyphs">20</text>
<text x="389.00" y="631.7" font-size="12" fill="#131722" textLength="11.2" lengthAdjust="spacingAndGlyphs">22</text>
<text x="450.19" y="631.7" font-size="12" fill="#131722" textLength="11.2" lengthAdjust="spacingAndGlyphs">25</text>
<text x="522.51" y="631.7" font-size="12" fill="#131722" textLength="11.2" lengthAdjust="spacingAndGlyphs">28</text>
<text x="622.68" y="631" font-size="11" font-weight="bold" fill="#131722" text-anchor="middle">Feb</text>
<text x="692.20" y="631.7" font-size="12" fill="#131722" textLength="5.6" lengthAdjust="spacingAndGlyphs">4</text>
<text x="758.96" y="631.7" font-size="12" fill="#131722" textLength="5.6" lengthAdjust="spacingAndGlyphs">6</text>
<text x="822.91" y="631.7" font-size="12" fill="#131722" textLength="11.2" lengthAdjust="spacingAndGlyphs">10</text>
<text x="889.67" y="631.7" font-size="12" fill="#131722" textLength="11.2" lengthAdjust="spacingAndGlyphs">12</text>
<text x="17" y="43.6" font-size="11.5" fill="#2f3340" textLength="49.8" lengthAdjust="spacingAndGlyphs">Australian</text>
<text x="70.3" y="43.6" font-size="11.5" fill="#2f3340" textLength="29.9" lengthAdjust="spacingAndGlyphs">Dollar</text>
<text x="107.2" y="43.6" font-size="11.5" fill="#2f3340" text-anchor="middle">/</text>
<text x="112.8" y="43.6" font-size="11.5" fill="#2f3340" textLength="19.0" lengthAdjust="spacingAndGlyphs">U.S.</text>
<text x="136.7" y="43.6" font-size="11.5" fill="#2f3340" textLength="29.6" lengthAdjust="spacingAndGlyphs">Dollar</text>
<text x="171.8" y="43.6" font-size="11.5" fill="#2f3340" text-anchor="middle">·</text>
<text x="176.3" y="43.6" font-size="11.5" fill="#2f3340" textLength="11.6" lengthAdjust="spacingAndGlyphs">4h</text>
<text x="195.1" y="43.6" font-size="11.5" fill="#2f3340" text-anchor="middle">·</text>
<text x="199.5" y="43.6" font-size="11.5" fill="#2f3340" textLength="26.6" lengthAdjust="spacingAndGlyphs">FXCM</text>
<text x="232.8" y="43.6" font-size="11.5" fill="#2f3340" textLength="7.4" lengthAdjust="spacingAndGlyphs">O</text>
<text x="240.6" y="43.6" font-size="11.5" fill="#f23645" textLength="38.3" lengthAdjust="spacingAndGlyphs">0.71434</text>
<text x="286.9" y="43.6" font-size="11.5" fill="#2f3340" textLength="5.9" lengthAdjust="spacingAndGlyphs">H</text>
<text x="293.6" y="43.6" font-size="11.5" fill="#f23645" textLength="38.3" lengthAdjust="spacingAndGlyphs">0.71470</text>
<text x="339.7" y="43.6" font-size="11.5" fill="#2f3340" textLength="4.7" lengthAdjust="spacingAndGlyphs">L</text>
<text x="345.2" y="43.6" font-size="11.5" fill="#f23645" textLength="38.2" lengthAdjust="spacingAndGlyphs">0.71253</text>
<text x="390.9" y="43.6" font-size="11.5" fill="#2f3340" textLength="5.8" lengthAdjust="spacingAndGlyphs">C</text>
<text x="397.5" y="43.6" font-size="11.5" fill="#f23645" textLength="38.7" lengthAdjust="spacingAndGlyphs">0.71263</text>
<text x="443.3" y="43.6" font-size="11.5" fill="#f23645" textLength="43.2" lengthAdjust="spacingAndGlyphs">−0.00171</text>
<text x="491.9" y="43.6" font-size="11.5" fill="#f23645" textLength="41.8" lengthAdjust="spacingAndGlyphs">(−0.24%)</text>
<text x="17" y="59.5" font-size="11.5" fill="#2f3340" textLength="14.6" lengthAdjust="spacingAndGlyphs">Vol</text>
<text x="39" y="59.5" font-size="11.5" fill="#f25a63" textLength="35.2" lengthAdjust="spacingAndGlyphs">13.26K</text>
<circle cx="894.9" cy="602.1" r="8.3" fill="#ffffff" stroke="#9c27b0" stroke-width="1.4"/>
<path d="M897.4 596.6 L899.2 596.9 L895.1 600.9 L899.5 600.9 L893.6 607.4 L891.9 607.0 L896.0 602.9 L891.3 602.9 Z" fill="#9c27b0"/>
<g><circle cx="911.9" cy="602.1" r="9.35" fill="#ffffff" stroke="#f23645" stroke-width="1.5"/><clipPath id="fc911"><circle cx="911.9" cy="602.1" r="7.6"/></clipPath><g clip-path="url(#fc911)"><rect x="913.50" y="595.50" width="8" height="2.1" fill="#f23645"/><rect x="913.50" y="600.90" width="8" height="3.0" fill="#f23645"/><rect x="903.90" y="606.60" width="16" height="3.5" fill="#f23645"/><rect x="903.90" y="594.10" width="9.6" height="9.8" fill="#3b8ff0"/><rect x="906.30" y="596.10" width="0.8" height="0.8" fill="#ffffff" fill-opacity="0.6"/><rect x="908.70" y="596.10" width="0.8" height="0.8" fill="#ffffff" fill-opacity="0.6"/><rect x="911.10" y="596.10" width="0.8" height="0.8" fill="#ffffff" fill-opacity="0.6"/><rect x="906.30" y="598.70" width="0.8" height="0.8" fill="#ffffff" fill-opacity="0.6"/><rect x="908.70" y="598.70" width="0.8" height="0.8" fill="#ffffff" fill-opacity="0.6"/><rect x="911.10" y="598.70" width="0.8" height="0.8" fill="#ffffff" fill-opacity="0.6"/><rect x="906.30" y="601.30" width="0.8" height="0.8" fill="#ffffff" fill-opacity="0.6"/><rect x="908.70" y="601.30" width="0.8" height="0.8" fill="#ffffff" fill-opacity="0.6"/><rect x="911.10" y="601.30" width="0.8" height="0.8" fill="#ffffff" fill-opacity="0.6"/></g></g>
<g><circle cx="939.5" cy="602.1" r="9.35" fill="#ffffff" stroke="#f23645" stroke-width="1.5"/><clipPath id="fc939"><circle cx="939.5" cy="602.1" r="7.6"/></clipPath><g clip-path="url(#fc939)"><rect x="941.10" y="595.50" width="8" height="2.1" fill="#f23645"/><rect x="941.10" y="600.90" width="8" height="3.0" fill="#f23645"/><rect x="931.50" y="606.60" width="16" height="3.5" fill="#f23645"/><rect x="931.50" y="594.10" width="9.6" height="9.8" fill="#3b8ff0"/><rect x="933.90" y="596.10" width="0.8" height="0.8" fill="#ffffff" fill-opacity="0.6"/><rect x="936.30" y="596.10" width="0.8" height="0.8" fill="#ffffff" fill-opacity="0.6"/><rect x="938.70" y="596.10" width="0.8" height="0.8" fill="#ffffff" fill-opacity="0.6"/><rect x="933.90" y="598.70" width="0.8" height="0.8" fill="#ffffff" fill-opacity="0.6"/><rect x="936.30" y="598.70" width="0.8" height="0.8" fill="#ffffff" fill-opacity="0.6"/><rect x="938.70" y="598.70" width="0.8" height="0.8" fill="#ffffff" fill-opacity="0.6"/><rect x="933.90" y="601.30" width="0.8" height="0.8" fill="#ffffff" fill-opacity="0.6"/><rect x="936.30" y="601.30" width="0.8" height="0.8" fill="#ffffff" fill-opacity="0.6"/><rect x="938.70" y="601.30" width="0.8" height="0.8" fill="#ffffff" fill-opacity="0.6"/></g></g>
<g transform="translate(11.6 658) scale(0.76)" fill="#131722"><path d="M14 22H7V11H0V4h14v18zM28 22h-8l7.5-18h8L28 22z"/><circle cx="20" cy="8" r="4"/></g>
<text x="46" y="674.7" font-size="20" font-weight="bold" fill="#131722" textLength="111.3" lengthAdjust="spacingAndGlyphs">TradingView</text>
</svg>
</body></html>
